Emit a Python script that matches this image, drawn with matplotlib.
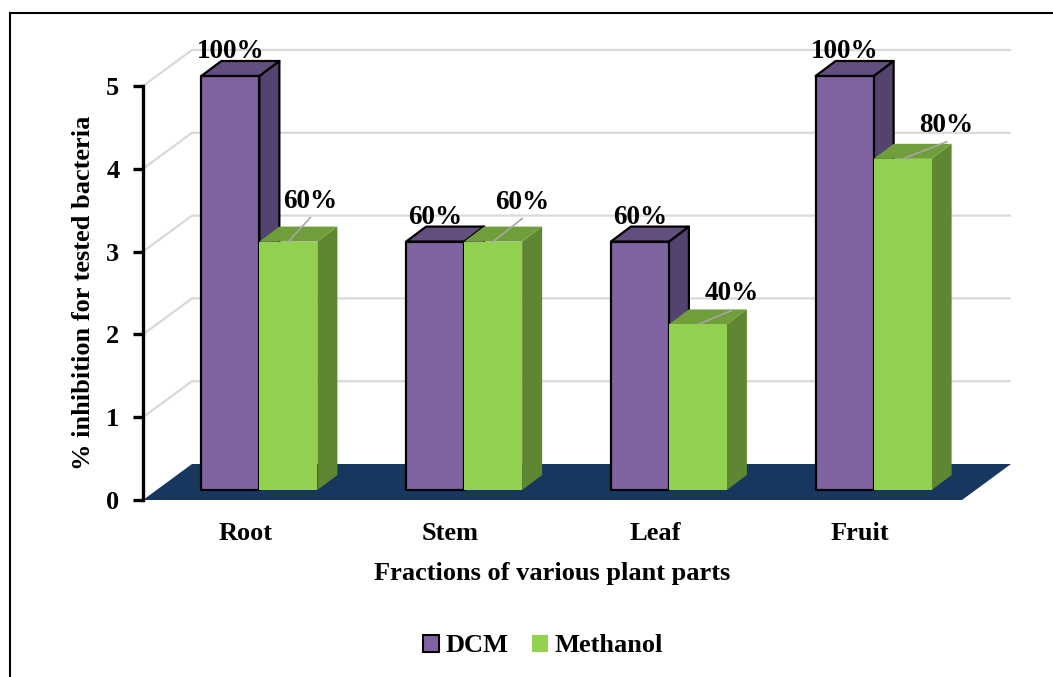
import matplotlib
matplotlib.use("Agg")
import matplotlib.pyplot as plt
from matplotlib.patches import Polygon, Patch
from matplotlib.lines import Line2D

# ---- data -------------------------------------------------------------
categories = ["Root", "Stem", "Leaf", "Fruit"]
dcm = [5, 3, 3, 5]
methanol = [3, 3, 2, 4]
dcm_labels = ["100%", "60%", "60%", "100%"]
methanol_labels = ["60%", "60%", "40%", "80%"]
yticks = [0, 1, 2, 3, 4, 5]
series_names = ["DCM", "Methanol"]

# ---- styling ----------------------------------------------------------
FONT = "Liberation Serif"
PURPLE = ("#8064A2", "#634E80", "#54426F")   # front, top, side
GREEN = ("#92D050", "#6F9E3A", "#5F8732")
FLOOR = "#17375E"
GRID = "#D9D9D9"

W, H = 1053, 677
fig = plt.figure(figsize=(W / 100, H / 100), dpi=100)
L, R, B, T = 143, 962, 500, 86          # axes box in pixels
ax = fig.add_axes([L / W, 1 - B / H, (R - L) / W, (B - T) / H])
ax.set_xlim(-0.5, 3.5)
ax.set_ylim(0, 5)

px_x = (R - L) / 4.0     # pixels per category unit
px_y = (B - T) / 5.0     # pixels per value unit


def dx(p):
    return p / px_x


def dy(p):
    return p / px_y


# 3D geometry (pixel depth converted to data units)
wall_dx, wall_dy = dx(49), dy(36)
bar_ox, bar_oy = dx(14), dy(10)
bar_dx, bar_dy = dx(20), dy(15)
bar_w = dx(58)

# back wall gridlines and side wall lines
x0, x1 = -0.5, 3.5
for v in yticks[1:]:
    ax.plot([x0, x0 + wall_dx, x1 + wall_dx], [v, v + wall_dy, v + wall_dy],
            color=GRID, lw=1.6, zorder=1, clip_on=False, solid_capstyle="butt")

# floor
ax.add_patch(Polygon([(x0, 0), (x1, 0), (x1 + wall_dx, wall_dy), (x0 + wall_dx, wall_dy)],
                     closed=True, facecolor=FLOOR, edgecolor="none", zorder=2, clip_on=False))


def draw_bar(xl, val, colors, edge, z):
    xf, yb = xl + bar_ox, bar_oy
    yt = yb + val
    ec = "black" if edge else "none"
    lw = 1.6 if edge else 0
    side = [(xf + bar_w, yb), (xf + bar_w + bar_dx, yb + bar_dy),
            (xf + bar_w + bar_dx, yt + bar_dy), (xf + bar_w, yt)]
    top = [(xf, yt), (xf + bar_w, yt), (xf + bar_w + bar_dx, yt + bar_dy), (xf + bar_dx, yt + bar_dy)]
    front = [(xf, yb), (xf + bar_w, yb), (xf + bar_w, yt), (xf, yt)]
    for poly, c in ((side, colors[2]), (top, colors[1]), (front, colors[0])):
        ax.add_patch(Polygon(poly, closed=True, facecolor=c, edgecolor=ec, lw=lw,
                             joinstyle="round", zorder=z, clip_on=False))
    return xf + bar_w / 2, yt


label_font = dict(family=FONT, weight="bold", size=19.5)
# offsets (px) of the methanol labels from the front-top centre of their bar
meth_offsets = [(22, 34), (29, 33), (34, 24), (44, 27)]

for i in range(len(categories)):
    cx, top = draw_bar(i - bar_w, dcm[i], PURPLE, True, 3 + 2 * i)
    ax.text(cx, top + bar_dy + dy(3), dcm_labels[i], ha="center", va="baseline",
            zorder=20, **label_font)
    cx, top = draw_bar(i, methanol[i], GREEN, False, 4 + 2 * i)
    ox, oy = meth_offsets[i]
    ax.plot([cx, cx + dx(ox)], [top, top + dy(oy - 10)], color="#A6A6A6", lw=1.2,
            zorder=20, clip_on=False)
    ax.text(cx + dx(ox), top + dy(oy), methanol_labels[i], ha="center", va="baseline",
            zorder=20, **label_font)

# axes decoration
for s in ("top", "right", "bottom"):
    ax.spines[s].set_visible(False)
ax.spines["left"].set_linewidth(2.4)
ax.spines["left"].set_zorder(10)
ax.patch.set_visible(False)
ax.set_yticks(yticks)
ax.set_yticklabels([str(t) for t in yticks], fontfamily=FONT, fontweight="bold", fontsize=19)
ax.tick_params(axis="y", direction="out", length=7, width=2.4, pad=10)
ax.set_xticks(range(len(categories)))
ax.set_xticklabels(categories, fontfamily=FONT, fontweight="bold", fontsize=19)
ax.tick_params(axis="x", length=0, pad=16)
ax.set_xlabel("Fractions of various plant parts", fontfamily=FONT, fontweight="bold",
              fontsize=19, labelpad=12)
ax.set_ylabel("% inhibition for tested bacteria", fontfamily=FONT, fontweight="bold",
              fontsize=19, labelpad=8)

handles = [Patch(facecolor=PURPLE[0], edgecolor="black", lw=1.5),
           Patch(facecolor=GREEN[0], edgecolor="none")]
fig.legend(handles, series_names, loc="center", bbox_to_anchor=(543 / W, 1 - 646 / H),
           ncol=2, frameon=False, handlelength=0.6, handleheight=0.6, handletextpad=0.25,
           columnspacing=0.9, prop=dict(family=FONT, weight="bold", size=19))

# outer frame (top and left edges)
fig.add_artist(Line2D([10 / W, 1.0], [1 - 13 / H, 1 - 13 / H], color="black", lw=1.5,
                      transform=fig.transFigure))
fig.add_artist(Line2D([10 / W, 10 / W], [0, 1 - 13 / H], color="black", lw=1.5,
                      transform=fig.transFigure))

fig.savefig("out.png", dpi=100)
